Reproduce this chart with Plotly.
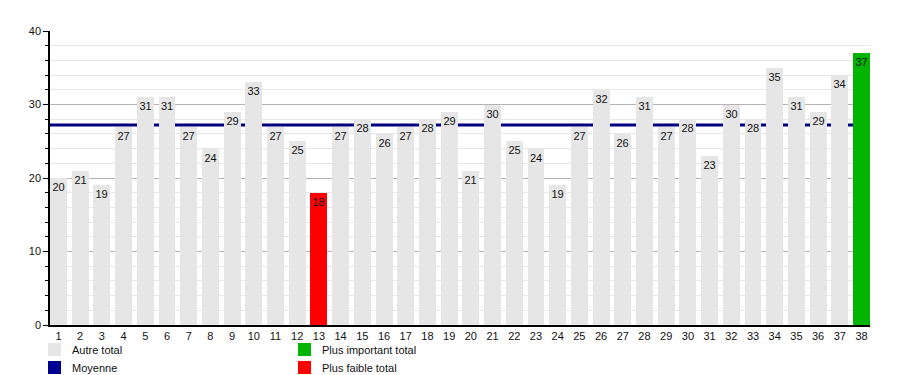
import plotly.graph_objects as go

categories = list(range(1, 39))
values = [20, 21, 19, 27, 31, 31, 27, 24, 29, 33,
          27, 25, 18, 27, 28, 26, 27, 28, 29, 21,
          30, 25, 24, 19, 27, 32, 26, 31, 27, 28,
          23, 30, 28, 35, 31, 29, 34, 37]
legend_labels = ["Autre total", "Moyenne", "Plus important total", "Plus faible total"]

mean_val = sum(values) / len(values)
vmax, vmin = max(values), min(values)
colors = []
for v in values:
    if v == vmax:
        colors.append("#00b400")
    elif v == vmin:
        colors.append("#ff0000")
    else:
        colors.append("#e6e6e6")

font = dict(family="Liberation Sans, Arial, sans-serif", size=11, color="#111111")

fig = go.Figure()
fig.add_trace(go.Bar(
    x=categories, y=values, width=0.78,
    marker=dict(color=colors, line=dict(width=0)),
    text=[str(v) for v in values], textposition="inside", insidetextanchor="end",
    constraintext="none",
    textfont=font,
    textangle=0, cliponaxis=False, showlegend=False, hoverinfo="x+y",
))

# page body has an 8px margin: figure is 892x367 placed at (8,8)
fig.update_layout(
    width=892, height=367,
    margin=dict(l=42, r=30, t=23, b=50),
    paper_bgcolor="white", plot_bgcolor="white",
    font=font, bargap=0,
    xaxis=dict(range=[0.61, 38.39], tickmode="array", tickvals=categories,
               ticktext=[str(c) for c in categories], showgrid=False,
               showline=True, linecolor="black", linewidth=1.5, ticks="",
               zeroline=False, tickfont=font, fixedrange=True),
    yaxis=dict(range=[0, 40], tickvals=[0, 10, 20, 30, 40], showgrid=True,
               gridcolor="#b4b4b4", gridwidth=1, showline=True, linecolor="black",
               linewidth=1.5, ticks="outside", ticklen=5, tickcolor="black",
               minor=dict(dtick=2, showgrid=True, gridcolor="#e8e8e8", ticks="outside",
                         ticklen=3, tickcolor="black"),
               zeroline=False, tickfont=font, fixedrange=True),
)

fig.add_shape(type="line", xref="paper", x0=0, x1=1, yref="y", y0=mean_val, y1=mean_val,
              line=dict(color="#000080", width=3), layer="below")

leg_cols = ["#e6e6e6", "#000090", "#00b400", "#ff0000"]
leg_pos = [(48, 343), (48, 361), (298, 343), (298, 361)]
for lab, col, (px, py) in zip(legend_labels, leg_cols, leg_pos):
    x0 = (px - 50) / 820
    x1 = (px + 13 - 50) / 820
    y0 = (325 - py) / 294
    y1 = (325 - py - 13) / 294
    fig.add_shape(type="rect", xref="paper", yref="paper", x0=x0, x1=x1, y0=y1, y1=y0,
                  fillcolor=col, line=dict(width=0))
    fig.add_annotation(xref="paper", yref="paper", x=(px + 22 - 50) / 820,
                       y=(325 - py - 6.5) / 294, text=lab, showarrow=False,
                       xanchor="left", yanchor="middle", font=font)

fig.write_html("out.html")
